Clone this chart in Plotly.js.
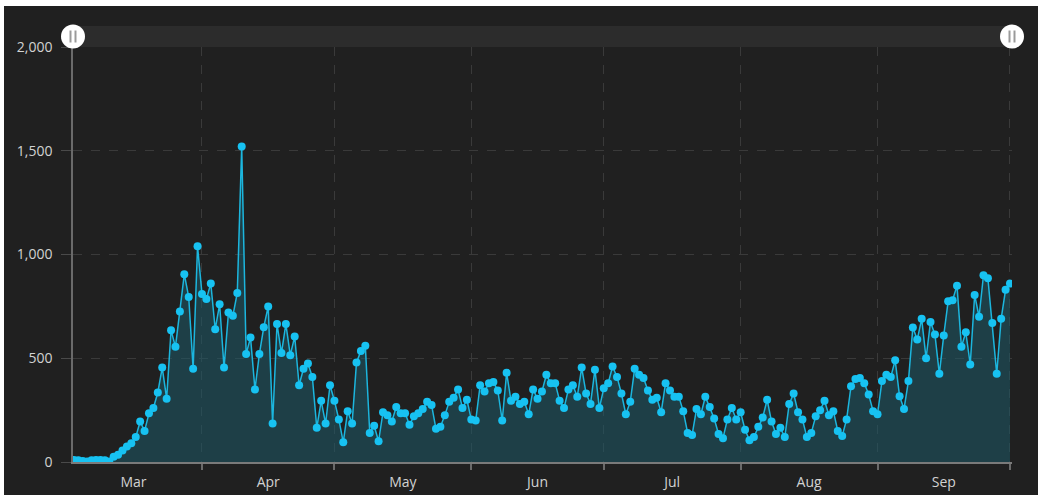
<!DOCTYPE html>
<html>
<head>
<meta charset="utf-8">
<script src="https://cdn.plot.ly/plotly-3.0.1.min.js"></script>
<style>
  html, body { margin: 0; padding: 0; background: #ffffff; width: 1038px; height: 495px; overflow: hidden; }
  #chart { position: absolute; left: 4px; top: 6px; width: 1034px; height: 489px; background: #202020; }
</style>
</head>
<body>
<div id="chart"></div>
<script>
// Daily values, starting 2020-03-03 (one value per day)
const startDate = '2020-03-03';
const dailyValues = [
  10, 8, 5, 3, 8, 10, 10, 8, 3, 25, 35,
  55, 75, 90, 120, 195, 150, 235, 260, 335, 455,
  305, 635, 555, 725, 905, 795, 450, 1040, 810, 785,
  860, 640, 760, 455, 720, 705, 815, 1520, 520, 600,
  350, 520, 650, 750, 185, 665, 525, 665, 515, 605,
  370, 450, 475, 410, 165, 295, 185, 370, 295, 205,
  95, 245, 185, 480, 535, 560, 140, 175, 100, 240,
  225, 195, 265, 235, 235, 180, 220, 235, 255, 290,
  275, 160, 170, 225, 290, 310, 350, 260, 300, 205,
  200, 370, 340, 380, 385, 345, 200, 430, 295, 315,
  280, 290, 230, 350, 305, 340, 420, 380, 380, 295,
  260, 350, 370, 315, 455, 330, 280, 445, 260, 355,
  380, 460, 410, 330, 230, 290, 450, 420, 405, 345,
  300, 310, 240, 380, 345, 315, 315, 245, 140, 130,
  255, 230, 315, 265, 210, 135, 115, 205, 260, 205,
  240, 155, 105, 120, 170, 215, 300, 195, 135, 165,
  120, 280, 330, 240, 205, 120, 140, 220, 250, 295,
  225, 245, 150, 125, 205, 365, 400, 405, 380, 325,
  245, 230, 390, 420, 410, 490, 317, 255, 390, 648,
  590, 690, 500, 675, 615, 425, 610, 775, 780, 850,
  555, 625, 470, 805, 700, 900, 885, 670, 425, 690,
  830, 860
];
const yTickValues = [0, 500, 1000, 1500, 2000];
const xRange = ['2020-03-02 19:00', '2020-10-01 11:00'];

// Build consecutive dates for the values
const dates = [];
{
  const d0 = new Date(startDate + 'T00:00:00Z');
  for (let i = 0; i < dailyValues.length; i++) {
    const d = new Date(d0.getTime() + i * 86400000);
    dates.push(d.toISOString().slice(0, 10));
  }
}

const trace = {
  x: dates,
  y: dailyValues,
  type: 'scatter',
  mode: 'lines+markers',
  fill: 'tozeroy',
  fillcolor: 'rgba(30,90,104,0.55)',
  line: { color: '#1cb6de', width: 1.5 },
  marker: { color: '#17c2f2', size: 8 },
  hoverinfo: 'x+y'
};

const plotH = 489 - 41 - 33;
const barH = 21 / plotH;
const handleY = 1 + barH / 2;

function handle(xp) {
  return [
    { type: 'circle', xref: 'paper', yref: 'paper', xsizemode: 'pixel', ysizemode: 'pixel',
      xanchor: xp, yanchor: handleY, x0: -12, x1: 12, y0: -12, y1: 12,
      fillcolor: '#ffffff', line: { width: 0 }, layer: 'above' },
    { type: 'rect', xref: 'paper', yref: 'paper', xsizemode: 'pixel', ysizemode: 'pixel',
      xanchor: xp, yanchor: handleY, x0: -3.5, x1: -1.5, y0: -6, y1: 6,
      fillcolor: '#9a9a9a', line: { width: 0 }, layer: 'above' },
    { type: 'rect', xref: 'paper', yref: 'paper', xsizemode: 'pixel', ysizemode: 'pixel',
      xanchor: xp, yanchor: handleY, x0: 1.5, x1: 3.5, y0: -6, y1: 6,
      fillcolor: '#9a9a9a', line: { width: 0 }, layer: 'above' }
  ];
}

const tickFont = { family: 'Open Sans, sans-serif', color: '#d2d2d2', size: 14 };

const layout = {
  width: 1034,
  height: 489,
  margin: { l: 69, r: 26, t: 41, b: 33 },
  paper_bgcolor: '#202020',
  plot_bgcolor: '#202020',
  showlegend: false,
  font: tickFont,
  xaxis: {
    type: 'date',
    range: xRange,
    dtick: 'M1',
    tick0: '2020-03-01',
    ticklabelmode: 'period',
    tickformat: '%b',
    showgrid: true,
    gridcolor: '#3a3a3a',
    griddash: 'dash',
    gridwidth: 1,
    ticks: 'outside',
    ticklen: 6,
    tickcolor: '#6a6a6a',
    tickwidth: 1.5,
    showline: true,
    linecolor: '#7a7a7a',
    linewidth: 2,
    zeroline: false,
    tickfont: tickFont,
    fixedrange: true
  },
  yaxis: {
    range: [0, 2000],
    tickvals: yTickValues,
    tickformat: ',',
    showgrid: true,
    gridcolor: '#3a3a3a',
    griddash: 'dash',
    ticks: 'outside',
    ticklen: 10,
    tickcolor: '#4a4a4a',
    ticklabelstandoff: 6,
    showline: true,
    linecolor: '#6a6a6a',
    linewidth: 1.5,
    zeroline: false,
    tickfont: tickFont,
    fixedrange: true
  },
  shapes: [
    { type: 'rect', xref: 'paper', yref: 'paper', x0: 0, x1: 1, y0: 1, y1: 1 + barH,
      fillcolor: '#2c2c2c', line: { width: 0 }, layer: 'below' }
  ].concat(handle(0), handle(1))
};

Plotly.newPlot('chart', [trace], layout, { displayModeBar: false });
</script>
</body>
</html>
